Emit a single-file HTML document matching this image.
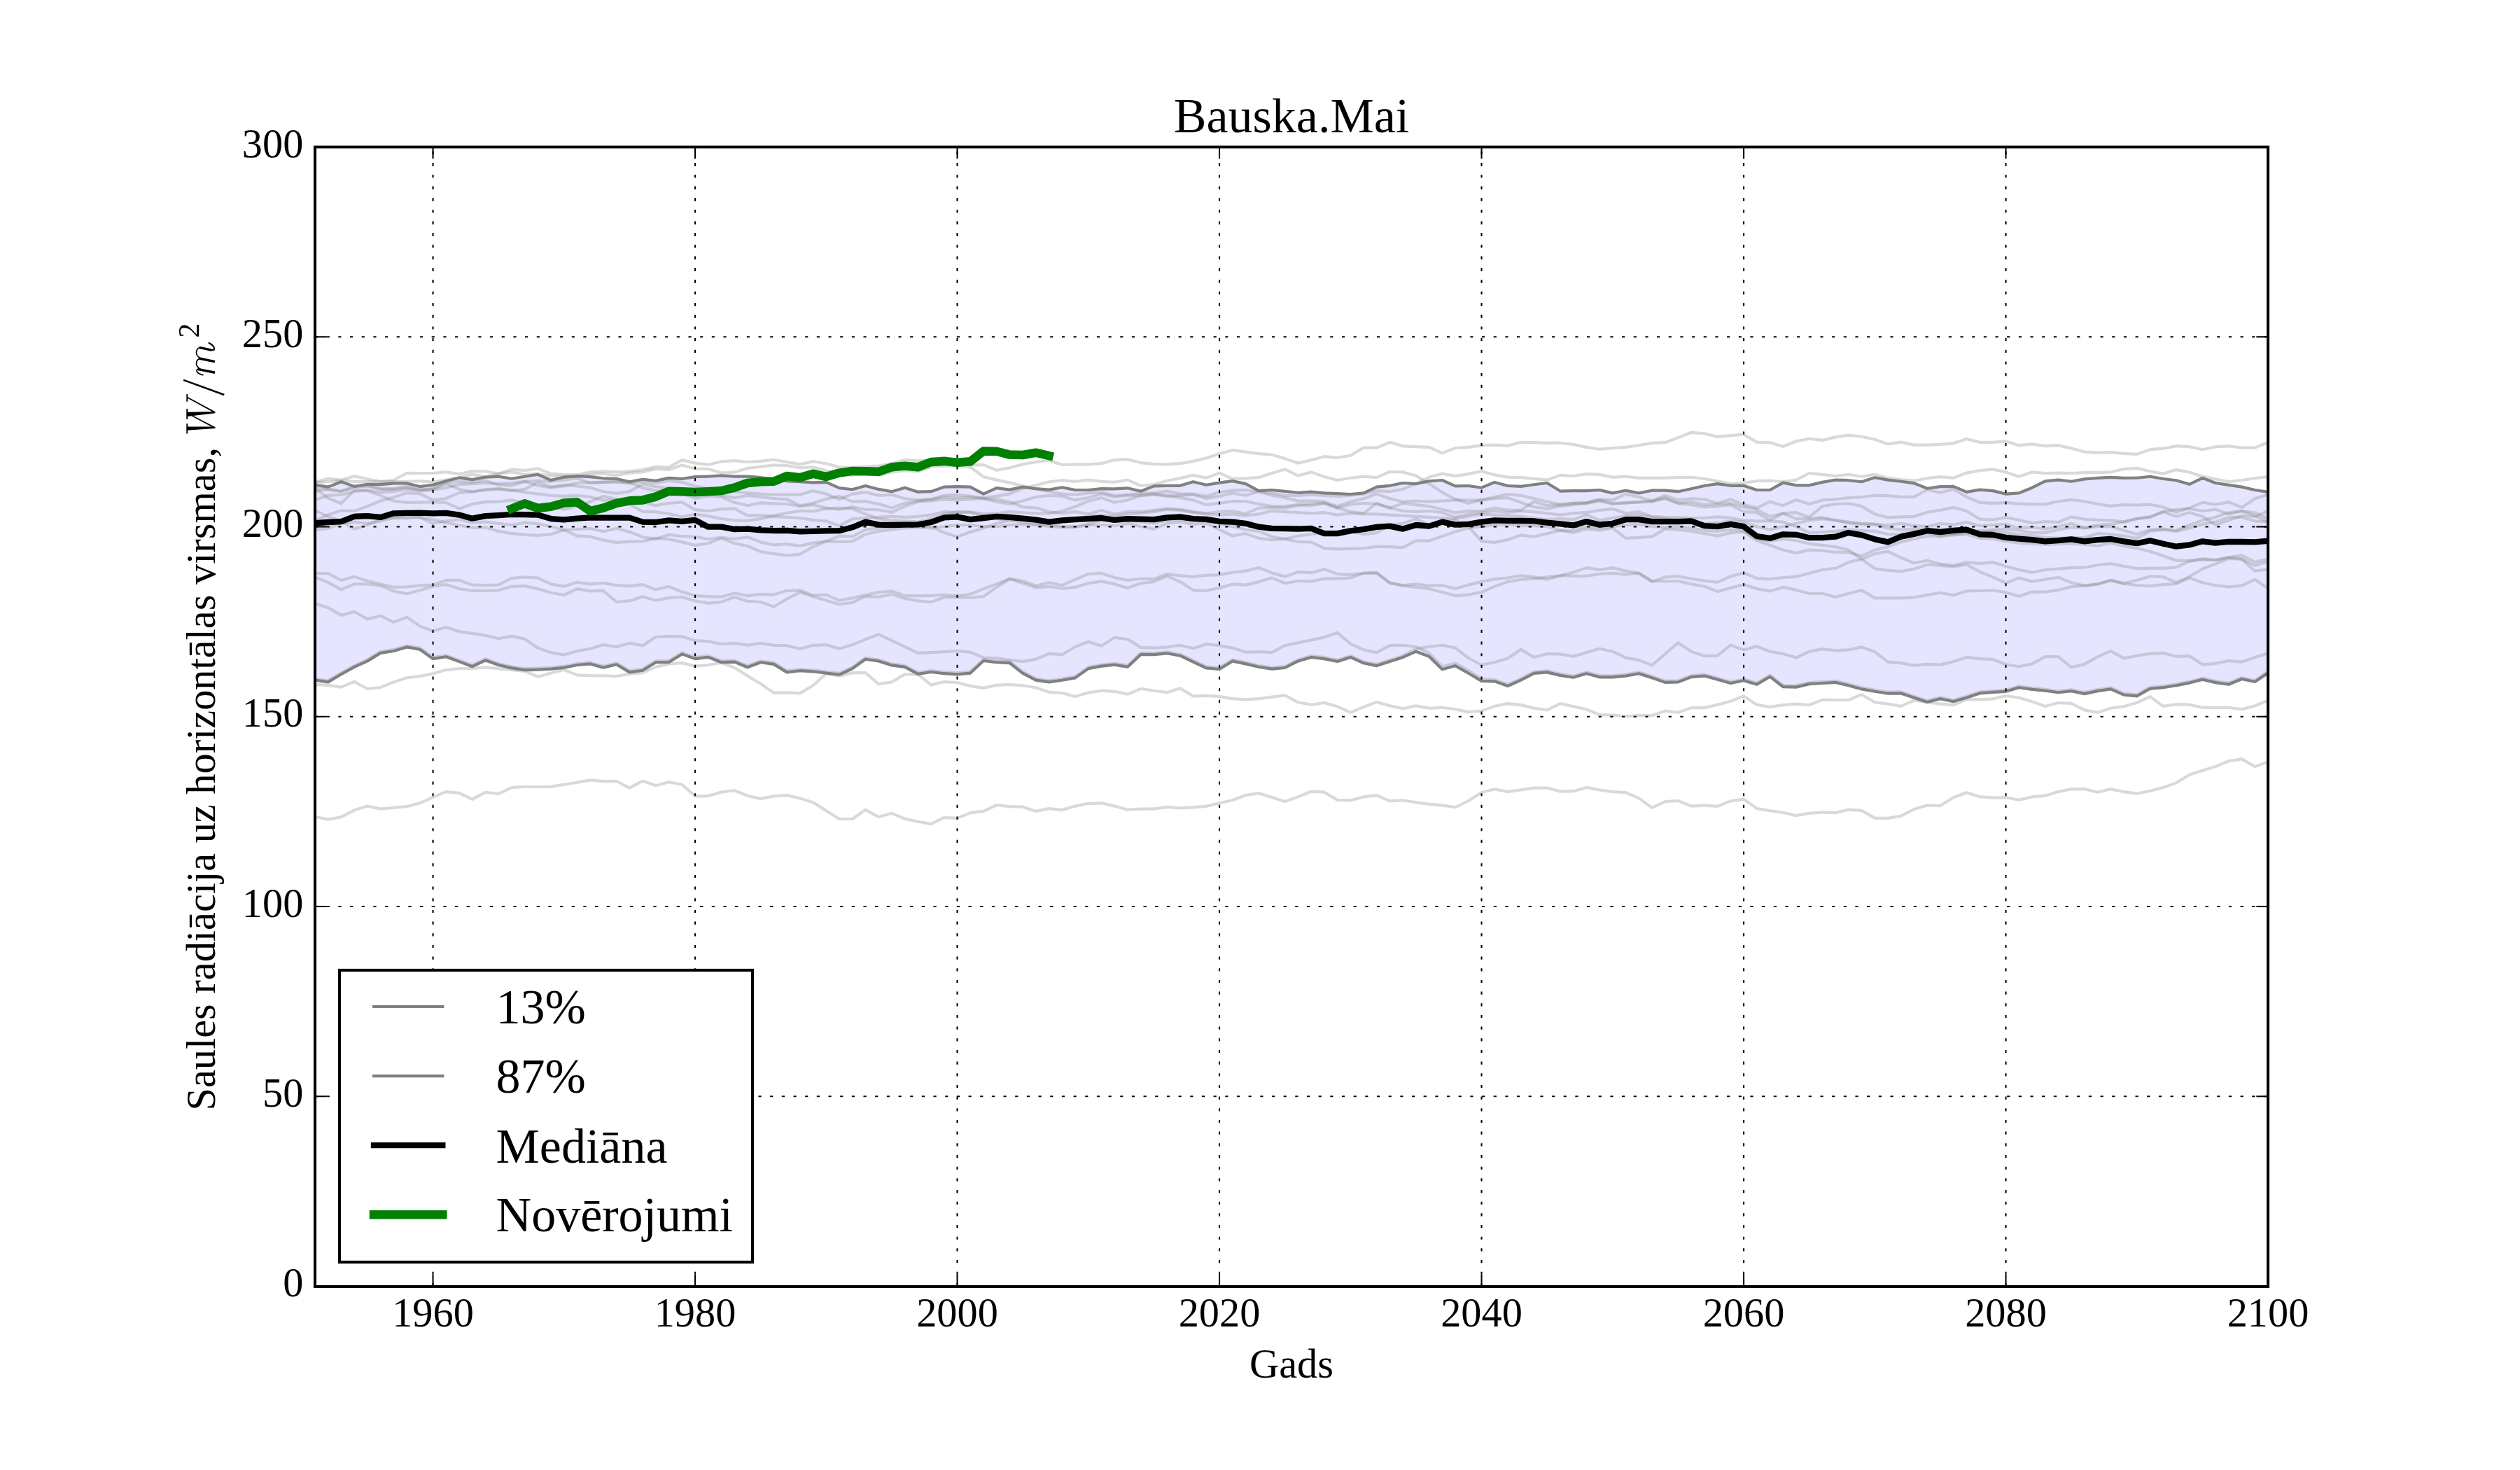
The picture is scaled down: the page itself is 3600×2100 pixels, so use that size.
<!DOCTYPE html>
<html><head><meta charset="utf-8"><title>Bauska.Mai</title>
<style>
html,body{margin:0;padding:0;background:#fff;}
body{width:3600px;height:2100px;overflow:hidden;}
svg{display:block;}
text{font-family:"Liberation Serif",serif;fill:#000;}
.t14{font-size:58.33px;}
.t17{font-size:70px;}
.it{font-style:italic;}
</style></head><body>
<svg width="3600" height="2100" viewBox="0 0 3600 2100">
<rect x="0" y="0" width="3600" height="2100" fill="#ffffff"/>
<defs><clipPath id="ax"><rect x="450" y="210" width="2790" height="1627.5"/></clipPath></defs>

<g clip-path="url(#ax)" fill="none" stroke-linejoin="round" stroke-linecap="butt">
<path d="M450.0 692.7 L468.7 695.6 L487.4 688.2 L506.2 694.9 L524.9 691.8 L543.6 692.2 L562.3 690.4 L581.1 690.4 L599.8 695.1 L618.5 692.7 L637.2 687.3 L656.0 682.4 L674.7 685.1 L693.4 681.6 L712.1 680.7 L730.9 683.8 L749.6 680.7 L768.3 677.8 L787.0 686.0 L805.8 681.6 L824.5 680.2 L843.2 681.1 L861.9 683.3 L880.7 684.0 L899.4 688.2 L918.1 684.7 L936.8 686.7 L955.6 682.9 L974.3 684.0 L993.0 681.1 L1011.7 680.7 L1030.5 679.3 L1049.2 680.7 L1067.9 680.7 L1086.6 682.2 L1105.4 684.4 L1124.1 687.3 L1142.8 688.2 L1161.5 689.3 L1180.3 688.9 L1199.0 697.1 L1217.7 699.3 L1236.4 694.0 L1255.2 698.9 L1273.9 702.2 L1292.6 696.7 L1311.3 702.7 L1330.1 702.2 L1348.8 695.6 L1367.5 695.1 L1386.2 695.6 L1405.0 705.6 L1423.7 697.1 L1442.4 699.6 L1461.1 695.6 L1479.9 698.2 L1498.6 699.6 L1517.3 696.2 L1536.0 700.0 L1554.8 700.0 L1573.5 698.2 L1592.2 698.4 L1610.9 697.3 L1629.7 701.8 L1648.4 694.4 L1667.1 693.8 L1685.8 693.8 L1704.6 688.2 L1723.3 692.7 L1742.0 689.6 L1760.7 687.1 L1779.5 691.1 L1798.2 701.1 L1816.9 700.0 L1835.6 701.8 L1854.4 703.8 L1873.1 702.7 L1891.8 704.4 L1910.5 705.1 L1929.3 706.0 L1948.0 704.4 L1966.7 695.6 L1985.4 693.8 L2004.2 690.0 L2022.9 691.1 L2041.6 687.3 L2060.3 686.0 L2079.1 694.4 L2097.8 694.0 L2116.5 696.7 L2135.2 688.9 L2154.0 694.0 L2172.7 694.9 L2191.4 692.2 L2210.1 690.0 L2228.9 701.6 L2247.6 701.1 L2266.3 701.1 L2285.0 700.0 L2303.8 704.4 L2322.5 700.7 L2341.2 704.4 L2359.9 700.7 L2378.7 700.7 L2397.4 702.2 L2416.1 698.2 L2434.8 694.0 L2453.6 691.1 L2472.3 693.8 L2491.0 693.8 L2509.7 700.0 L2528.5 700.0 L2547.2 689.6 L2565.9 693.3 L2584.6 693.3 L2603.4 688.9 L2622.1 685.6 L2640.8 686.2 L2659.5 688.2 L2678.3 682.2 L2697.0 685.6 L2715.7 687.8 L2734.4 690.4 L2753.2 697.8 L2771.9 695.1 L2790.6 694.9 L2809.3 702.9 L2828.1 699.6 L2846.8 701.1 L2865.5 705.6 L2884.2 704.4 L2903.0 696.7 L2921.7 687.3 L2940.4 685.6 L2959.1 687.8 L2977.9 684.4 L2996.6 682.9 L3015.3 681.8 L3034.0 682.9 L3052.8 682.7 L3071.5 680.7 L3090.2 684.0 L3108.9 686.2 L3127.7 691.8 L3146.4 682.9 L3165.1 690.0 L3183.8 692.9 L3202.6 695.6 L3221.3 700.0 L3240.0 702.9 L3240.0 961.6 L3221.3 974.0 L3202.6 970.0 L3183.8 977.8 L3165.1 975.1 L3146.4 970.7 L3127.7 975.6 L3108.9 979.3 L3090.2 982.2 L3071.5 983.8 L3052.8 994.4 L3034.0 992.7 L3015.3 984.4 L2996.6 987.1 L2977.9 991.1 L2959.1 987.3 L2940.4 989.3 L2921.7 986.7 L2903.0 984.9 L2884.2 982.2 L2865.5 987.8 L2846.8 988.9 L2828.1 990.4 L2809.3 996.7 L2790.6 1002.2 L2771.9 998.2 L2753.2 1002.9 L2734.4 996.7 L2715.7 990.4 L2697.0 990.7 L2678.3 987.8 L2659.5 984.4 L2640.8 979.3 L2622.1 974.9 L2603.4 976.0 L2584.6 977.1 L2565.9 981.6 L2547.2 981.1 L2528.5 966.7 L2509.7 977.8 L2491.0 972.2 L2472.3 976.0 L2453.6 970.7 L2434.8 965.6 L2416.1 967.1 L2397.4 974.4 L2378.7 974.9 L2359.9 968.2 L2341.2 962.2 L2322.5 965.6 L2303.8 967.3 L2285.0 967.3 L2266.3 962.2 L2247.6 967.8 L2228.9 964.9 L2210.1 960.4 L2191.4 961.8 L2172.7 971.6 L2154.0 980.0 L2135.2 973.3 L2116.5 972.9 L2097.8 961.8 L2079.1 951.1 L2060.3 956.2 L2041.6 937.8 L2022.9 930.7 L2004.2 938.9 L1985.4 945.1 L1966.7 951.1 L1948.0 947.3 L1929.3 938.9 L1910.5 944.9 L1891.8 941.1 L1873.1 938.9 L1854.4 944.4 L1835.6 954.0 L1816.9 955.6 L1798.2 952.7 L1779.5 948.4 L1760.7 944.4 L1742.0 956.0 L1723.3 954.4 L1704.6 945.6 L1685.8 936.7 L1667.1 933.3 L1648.4 935.1 L1629.7 934.9 L1610.9 952.7 L1592.2 949.6 L1573.5 951.6 L1554.8 955.1 L1536.0 968.4 L1517.3 971.8 L1498.6 974.4 L1479.9 971.6 L1461.1 961.8 L1442.4 947.1 L1423.7 946.2 L1405.0 944.0 L1386.2 961.6 L1367.5 963.3 L1348.8 962.2 L1330.1 960.0 L1311.3 962.9 L1292.6 952.9 L1273.9 950.4 L1255.2 944.4 L1236.4 941.8 L1217.7 955.1 L1199.0 963.8 L1180.3 961.6 L1161.5 959.3 L1142.8 958.2 L1124.1 960.4 L1105.4 948.9 L1086.6 946.2 L1067.9 953.3 L1049.2 945.6 L1030.5 946.2 L1011.7 938.9 L993.0 941.1 L974.3 934.4 L955.6 946.0 L936.8 946.2 L918.1 957.8 L899.4 960.4 L880.7 949.3 L861.9 953.8 L843.2 948.4 L824.5 950.0 L805.8 953.8 L787.0 955.6 L768.3 956.7 L749.6 957.1 L730.9 954.4 L712.1 950.0 L693.4 943.3 L674.7 952.2 L656.0 945.1 L637.2 938.2 L618.5 941.1 L599.8 927.8 L581.1 924.4 L562.3 930.0 L543.6 932.9 L524.9 944.4 L506.2 952.9 L487.4 963.3 L468.7 974.4 L450.0 971.6 Z" fill="#0000ff" fill-opacity="0.1" stroke="none"/>
<path d="M450.0 1166.7 L468.7 1170.7 L487.4 1167.1 L506.2 1157.3 L524.9 1151.6 L543.6 1155.6 L562.3 1153.8 L581.1 1152.2 L599.8 1147.3 L618.5 1138.9 L637.2 1131.1 L656.0 1132.9 L674.7 1141.8 L693.4 1131.8 L712.1 1134.0 L730.9 1125.1 L749.6 1124.0 L768.3 1124.0 L787.0 1123.8 L805.8 1120.7 L824.5 1117.8 L843.2 1114.4 L861.9 1116.2 L880.7 1116.0 L899.4 1125.6 L918.1 1115.6 L936.8 1122.2 L955.6 1117.3 L974.3 1120.7 L993.0 1137.3 L1011.7 1137.1 L1030.5 1131.6 L1049.2 1129.3 L1067.9 1136.7 L1086.6 1141.1 L1105.4 1137.3 L1124.1 1136.0 L1142.8 1140.4 L1161.5 1146.2 L1180.3 1158.2 L1199.0 1170.0 L1217.7 1170.0 L1236.4 1156.7 L1255.2 1167.1 L1273.9 1161.8 L1292.6 1169.6 L1311.3 1173.8 L1330.1 1177.1 L1348.8 1167.8 L1367.5 1168.9 L1386.2 1161.1 L1405.0 1158.9 L1423.7 1150.0 L1442.4 1152.2 L1461.1 1152.7 L1479.9 1158.9 L1498.6 1155.1 L1517.3 1157.1 L1536.0 1151.6 L1554.8 1147.8 L1573.5 1147.3 L1592.2 1151.6 L1610.9 1156.7 L1629.7 1155.6 L1648.4 1155.6 L1667.1 1152.9 L1685.8 1154.4 L1704.6 1153.3 L1723.3 1151.8 L1742.0 1147.3 L1760.7 1143.3 L1779.5 1136.0 L1798.2 1133.3 L1816.9 1138.9 L1835.6 1145.1 L1854.4 1138.4 L1873.1 1130.7 L1891.8 1131.6 L1910.5 1142.9 L1929.3 1143.3 L1948.0 1138.4 L1966.7 1136.2 L1985.4 1144.4 L2004.2 1143.3 L2022.9 1146.2 L2041.6 1148.9 L2060.3 1150.4 L2079.1 1153.3 L2097.8 1144.0 L2116.5 1132.2 L2135.2 1127.3 L2154.0 1131.1 L2172.7 1128.4 L2191.4 1125.6 L2210.1 1125.6 L2228.9 1130.7 L2247.6 1130.4 L2266.3 1124.9 L2285.0 1128.4 L2303.8 1131.1 L2322.5 1132.2 L2341.2 1140.4 L2359.9 1153.8 L2378.7 1145.1 L2397.4 1144.0 L2416.1 1151.6 L2434.8 1150.7 L2453.6 1151.8 L2472.3 1144.4 L2491.0 1141.8 L2509.7 1154.9 L2528.5 1158.2 L2547.2 1160.7 L2565.9 1165.1 L2584.6 1161.8 L2603.4 1160.4 L2622.1 1161.1 L2640.8 1156.7 L2659.5 1157.8 L2678.3 1168.9 L2697.0 1168.9 L2715.7 1165.6 L2734.4 1156.0 L2753.2 1150.4 L2771.9 1151.1 L2790.6 1139.3 L2809.3 1132.2 L2828.1 1138.2 L2846.8 1139.6 L2865.5 1139.3 L2884.2 1142.7 L2903.0 1138.4 L2921.7 1136.7 L2940.4 1131.1 L2959.1 1127.3 L2977.9 1127.1 L2996.6 1131.8 L3015.3 1127.3 L3034.0 1131.1 L3052.8 1133.8 L3071.5 1130.0 L3090.2 1125.1 L3108.9 1118.4 L3127.7 1106.7 L3146.4 1100.7 L3165.1 1095.1 L3183.8 1087.1 L3202.6 1084.4 L3221.3 1095.1 L3240.0 1088.4" stroke="#808080" stroke-opacity="0.3" stroke-width="4.17"/>
<path d="M450.0 977.8 L468.7 978.9 L487.4 981.6 L506.2 973.8 L524.9 984.0 L543.6 982.2 L562.3 974.4 L581.1 968.2 L599.8 966.0 L618.5 962.2 L637.2 957.1 L656.0 955.1 L674.7 954.9 L693.4 953.3 L712.1 955.1 L730.9 957.3 L749.6 958.9 L768.3 966.7 L787.0 961.6 L805.8 956.7 L824.5 964.4 L843.2 965.1 L861.9 965.3 L880.7 966.0 L899.4 962.7 L918.1 961.1 L936.8 952.9 L955.6 948.4 L974.3 947.1 L993.0 951.6 L1011.7 950.0 L1030.5 946.7 L1049.2 953.8 L1067.9 965.6 L1086.6 976.7 L1105.4 989.6 L1124.1 989.3 L1142.8 990.4 L1161.5 979.3 L1180.3 962.2 L1199.0 965.6 L1217.7 961.1 L1236.4 961.1 L1255.2 977.3 L1273.9 974.4 L1292.6 963.3 L1311.3 963.3 L1330.1 978.4 L1348.8 974.0 L1367.5 975.1 L1386.2 980.0 L1405.0 982.9 L1423.7 978.9 L1442.4 977.8 L1461.1 979.3 L1479.9 982.2 L1498.6 988.9 L1517.3 990.0 L1536.0 994.9 L1554.8 989.6 L1573.5 986.7 L1592.2 987.8 L1610.9 991.8 L1629.7 983.8 L1648.4 986.7 L1667.1 989.3 L1685.8 983.3 L1704.6 994.4 L1723.3 993.8 L1742.0 994.9 L1760.7 998.2 L1779.5 999.3 L1798.2 998.2 L1816.9 995.6 L1835.6 993.3 L1854.4 1003.3 L1873.1 1006.7 L1891.8 1004.0 L1910.5 1009.3 L1929.3 1017.8 L1948.0 1010.0 L1966.7 1002.9 L1985.4 1008.2 L2004.2 1012.2 L2022.9 1008.2 L2041.6 1011.8 L2060.3 1010.7 L2079.1 1013.3 L2097.8 1017.1 L2116.5 1015.6 L2135.2 1008.9 L2154.0 1005.1 L2172.7 1007.1 L2191.4 1011.6 L2210.1 1014.4 L2228.9 1005.1 L2247.6 1009.3 L2266.3 1013.3 L2285.0 1021.1 L2303.8 1021.6 L2322.5 1023.3 L2341.2 1022.2 L2359.9 1022.2 L2378.7 1015.6 L2397.4 1017.8 L2416.1 1011.1 L2434.8 1011.1 L2453.6 1006.7 L2472.3 1001.8 L2491.0 994.4 L2509.7 1006.7 L2528.5 1010.0 L2547.2 1007.1 L2565.9 1005.6 L2584.6 1007.1 L2603.4 999.6 L2622.1 1000.0 L2640.8 1000.0 L2659.5 992.2 L2678.3 1003.3 L2697.0 1005.6 L2715.7 1008.9 L2734.4 1000.4 L2753.2 1003.3 L2771.9 1005.6 L2790.6 1007.1 L2809.3 999.3 L2828.1 999.3 L2846.8 998.4 L2865.5 994.0 L2884.2 996.7 L2903.0 1002.2 L2921.7 1008.9 L2940.4 1004.0 L2959.1 1004.9 L2977.9 1014.4 L2996.6 1017.8 L3015.3 1011.8 L3034.0 1009.3 L3052.8 1003.8 L3071.5 995.1 L3090.2 1008.9 L3108.9 1006.2 L3127.7 1006.7 L3146.4 1010.7 L3165.1 1011.1 L3183.8 1010.7 L3202.6 1013.3 L3221.3 1008.2 L3240.0 1000.7" stroke="#808080" stroke-opacity="0.3" stroke-width="4.17"/>
<path d="M450.0 862.2 L468.7 868.2 L487.4 878.9 L506.2 873.8 L524.9 884.4 L543.6 879.6 L562.3 888.9 L581.1 881.6 L599.8 894.4 L618.5 901.6 L637.2 896.0 L656.0 902.2 L674.7 904.9 L693.4 907.8 L712.1 912.2 L730.9 908.9 L749.6 912.9 L768.3 925.6 L787.0 932.2 L805.8 935.6 L824.5 930.0 L843.2 926.7 L861.9 921.1 L880.7 924.0 L899.4 918.9 L918.1 922.2 L936.8 910.0 L955.6 908.9 L974.3 909.6 L993.0 915.1 L1011.7 916.2 L1030.5 920.0 L1049.2 918.9 L1067.9 921.6 L1086.6 918.9 L1105.4 921.8 L1124.1 922.2 L1142.8 927.1 L1161.5 921.8 L1180.3 921.1 L1199.0 926.7 L1217.7 921.1 L1236.4 913.3 L1255.2 906.2 L1273.9 915.1 L1292.6 924.0 L1311.3 932.9 L1330.1 932.2 L1348.8 931.1 L1367.5 930.0 L1386.2 931.6 L1405.0 939.6 L1423.7 940.0 L1442.4 942.7 L1461.1 945.1 L1479.9 941.6 L1498.6 933.8 L1517.3 935.1 L1536.0 924.0 L1554.8 916.7 L1573.5 922.7 L1592.2 910.7 L1610.9 913.3 L1629.7 924.9 L1648.4 925.6 L1667.1 924.4 L1685.8 921.8 L1704.6 926.2 L1723.3 920.0 L1742.0 922.2 L1760.7 925.6 L1779.5 931.6 L1798.2 931.1 L1816.9 932.2 L1835.6 922.2 L1854.4 918.2 L1873.1 914.4 L1891.8 910.4 L1910.5 903.8 L1929.3 919.6 L1948.0 928.2 L1966.7 932.2 L1985.4 922.2 L2004.2 921.8 L2022.9 923.8 L2041.6 932.9 L2060.3 952.2 L2079.1 947.3 L2097.8 957.8 L2116.5 970.0 L2135.2 971.3 L2154.0 978.0 L2172.7 969.6 L2191.4 959.8 L2210.1 958.4 L2228.9 962.9 L2247.6 965.8 L2266.3 960.2 L2285.0 965.3 L2303.8 965.3 L2322.5 963.6 L2341.2 960.2 L2359.9 966.2 L2378.7 972.9 L2397.4 972.4 L2416.1 965.1 L2434.8 963.6 L2453.6 968.7 L2472.3 974.0 L2491.0 970.2 L2509.7 975.8 L2528.5 964.7 L2547.2 979.1 L2565.9 979.6 L2584.6 975.1 L2603.4 974.0 L2622.1 972.9 L2640.8 977.3 L2659.5 982.4 L2678.3 985.8 L2697.0 988.7 L2715.7 988.4 L2734.4 994.7 L2753.2 1000.9 L2771.9 996.2 L2790.6 1000.2 L2809.3 994.7 L2828.1 988.4 L2846.8 986.9 L2865.5 985.8 L2884.2 980.2 L2903.0 982.9 L2921.7 984.7 L2940.4 987.3 L2959.1 985.3 L2977.9 989.1 L2996.6 985.1 L3015.3 982.4 L3034.0 990.7 L3052.8 992.4 L3071.5 981.8 L3090.2 980.2 L3108.9 977.3 L3127.7 973.6 L3146.4 968.7 L3165.1 973.1 L3183.8 975.8 L3202.6 968.0 L3221.3 972.0 L3240.0 959.6" stroke="#808080" stroke-opacity="0.3" stroke-width="4.17"/>
<path d="M450.0 969.6 L468.7 972.4 L487.4 961.3 L506.2 950.9 L524.9 942.4 L543.6 930.9 L562.3 928.0 L581.1 922.4 L599.8 925.8 L618.5 939.1 L637.2 936.2 L656.0 943.1 L674.7 950.2 L693.4 941.3 L712.1 948.0 L730.9 952.4 L749.6 955.1 L768.3 954.7 L787.0 953.6 L805.8 951.8 L824.5 948.0 L843.2 946.4 L861.9 951.8 L880.7 947.3 L899.4 958.4 L918.1 955.8 L936.8 944.2 L955.6 944.0 L974.3 932.4 L993.0 939.1 L1011.7 936.9 L1030.5 944.2 L1049.2 943.6 L1067.9 951.3 L1086.6 944.2 L1105.4 946.9 L1124.1 958.4 L1142.8 956.2 L1161.5 957.3 L1180.3 959.6 L1199.0 961.8 L1217.7 953.1 L1236.4 939.8 L1255.2 942.4 L1273.9 948.4 L1292.6 950.9 L1311.3 960.9 L1330.1 958.0 L1348.8 960.2 L1367.5 961.3 L1386.2 959.6 L1405.0 942.0 L1423.7 944.2 L1442.4 945.1 L1461.1 959.8 L1479.9 969.6 L1498.6 972.4 L1517.3 969.8 L1536.0 966.4 L1554.8 953.1 L1573.5 949.6 L1592.2 947.6 L1610.9 950.7 L1629.7 932.9 L1648.4 933.1 L1667.1 931.3 L1685.8 934.7 L1704.6 943.6 L1723.3 952.4 L1742.0 954.0 L1760.7 942.4 L1779.5 946.4 L1798.2 950.7 L1816.9 953.6 L1835.6 952.0 L1854.4 942.4 L1873.1 936.9 L1891.8 939.1 L1910.5 942.9 L1929.3 936.9 L1948.0 945.3 L1966.7 949.1 L1985.4 943.1 L2004.2 936.9 L2022.9 926.7 L2041.6 923.8 L2060.3 921.8 L2079.1 925.6 L2097.8 940.0 L2116.5 950.0 L2135.2 946.0 L2154.0 940.4 L2172.7 927.8 L2191.4 938.9 L2210.1 934.0 L2228.9 934.4 L2247.6 937.8 L2266.3 932.2 L2285.0 926.7 L2303.8 930.7 L2322.5 939.6 L2341.2 942.9 L2359.9 950.4 L2378.7 934.4 L2397.4 918.2 L2416.1 930.7 L2434.8 937.1 L2453.6 936.7 L2472.3 921.6 L2491.0 928.4 L2509.7 923.3 L2528.5 930.7 L2547.2 934.0 L2565.9 939.6 L2584.6 930.7 L2603.4 927.1 L2622.1 929.3 L2640.8 928.4 L2659.5 924.4 L2678.3 931.1 L2697.0 945.6 L2715.7 947.1 L2734.4 950.7 L2753.2 948.9 L2771.9 949.6 L2790.6 945.1 L2809.3 938.9 L2828.1 941.1 L2846.8 941.8 L2865.5 949.3 L2884.2 952.2 L2903.0 948.4 L2921.7 938.2 L2940.4 938.2 L2959.1 953.3 L2977.9 948.9 L2996.6 938.2 L3015.3 930.0 L3034.0 940.4 L3052.8 936.7 L3071.5 933.8 L3090.2 932.9 L3108.9 937.8 L3127.7 937.1 L3146.4 949.3 L3165.1 947.8 L3183.8 944.0 L3202.6 945.6 L3221.3 939.3 L3240.0 933.3" stroke="#808080" stroke-opacity="0.3" stroke-width="4.17"/>
<path d="M450.0 818.9 L468.7 819.3 L487.4 828.9 L506.2 823.8 L524.9 830.0 L543.6 834.4 L562.3 838.9 L581.1 838.4 L599.8 836.7 L618.5 835.6 L637.2 828.9 L656.0 828.9 L674.7 835.6 L693.4 836.2 L712.1 835.6 L730.9 826.0 L749.6 824.4 L768.3 825.6 L787.0 834.4 L805.8 837.8 L824.5 831.8 L843.2 834.4 L861.9 832.9 L880.7 836.2 L899.4 837.1 L918.1 835.1 L936.8 842.2 L955.6 837.8 L974.3 845.6 L993.0 851.1 L1011.7 852.2 L1030.5 852.7 L1049.2 847.3 L1067.9 851.1 L1086.6 848.9 L1105.4 849.6 L1124.1 843.8 L1142.8 843.3 L1161.5 850.4 L1180.3 849.6 L1199.0 857.8 L1217.7 854.4 L1236.4 850.0 L1255.2 846.0 L1273.9 844.4 L1292.6 851.1 L1311.3 851.1 L1330.1 851.1 L1348.8 849.6 L1367.5 851.1 L1386.2 848.9 L1405.0 841.1 L1423.7 834.4 L1442.4 826.7 L1461.1 830.0 L1479.9 836.7 L1498.6 832.2 L1517.3 836.2 L1536.0 827.8 L1554.8 820.0 L1573.5 818.9 L1592.2 825.1 L1610.9 828.9 L1629.7 826.7 L1648.4 827.3 L1667.1 820.0 L1685.8 822.2 L1704.6 824.0 L1723.3 821.8 L1742.0 821.1 L1760.7 817.8 L1779.5 815.6 L1798.2 811.1 L1816.9 818.4 L1835.6 823.8 L1854.4 817.1 L1873.1 818.2 L1891.8 813.3 L1910.5 820.0 L1929.3 821.1 L1948.0 818.9 L1966.7 817.8 L1985.4 832.2 L2004.2 836.2 L2022.9 834.4 L2041.6 836.7 L2060.3 836.2 L2079.1 841.1 L2097.8 835.6 L2116.5 831.1 L2135.2 827.3 L2154.0 825.6 L2172.7 822.2 L2191.4 824.4 L2210.1 827.8 L2228.9 822.2 L2247.6 817.8 L2266.3 811.1 L2285.0 814.0 L2303.8 811.1 L2322.5 815.6 L2341.2 818.9 L2359.9 831.1 L2378.7 824.4 L2397.4 823.3 L2416.1 826.7 L2434.8 829.6 L2453.6 831.8 L2472.3 823.3 L2491.0 818.4 L2509.7 826.2 L2528.5 827.3 L2547.2 825.1 L2565.9 823.8 L2584.6 818.9 L2603.4 814.0 L2622.1 811.8 L2640.8 803.3 L2659.5 798.9 L2678.3 791.1 L2697.0 787.8 L2715.7 796.7 L2734.4 804.4 L2753.2 800.7 L2771.9 805.6 L2790.6 807.8 L2809.3 803.3 L2828.1 804.9 L2846.8 803.3 L2865.5 808.9 L2884.2 814.0 L2903.0 817.8 L2921.7 814.0 L2940.4 812.7 L2959.1 811.1 L2977.9 810.7 L2996.6 807.3 L3015.3 805.1 L3034.0 808.9 L3052.8 812.2 L3071.5 811.6 L3090.2 811.8 L3108.9 810.4 L3127.7 801.6 L3146.4 798.4 L3165.1 800.0 L3183.8 796.2 L3202.6 793.3 L3221.3 802.9 L3240.0 798.9" stroke="#808080" stroke-opacity="0.3" stroke-width="4.17"/>
<path d="M450.0 824.4 L468.7 832.2 L487.4 842.2 L506.2 834.4 L524.9 834.4 L543.6 836.7 L562.3 844.4 L581.1 848.2 L599.8 843.3 L618.5 837.8 L637.2 834.9 L656.0 841.1 L674.7 843.8 L693.4 843.8 L712.1 843.3 L730.9 837.8 L749.6 837.1 L768.3 841.1 L787.0 846.7 L805.8 850.0 L824.5 841.1 L843.2 844.4 L861.9 843.8 L880.7 860.0 L899.4 858.4 L918.1 852.2 L936.8 857.8 L955.6 854.0 L974.3 852.9 L993.0 858.4 L1011.7 861.8 L1030.5 860.0 L1049.2 852.7 L1067.9 858.9 L1086.6 860.0 L1105.4 866.7 L1124.1 855.6 L1142.8 846.0 L1161.5 852.2 L1180.3 857.8 L1199.0 863.3 L1217.7 860.7 L1236.4 852.2 L1255.2 852.7 L1273.9 848.9 L1292.6 854.9 L1311.3 858.4 L1330.1 860.0 L1348.8 853.3 L1367.5 853.3 L1386.2 854.0 L1405.0 852.2 L1423.7 838.9 L1442.4 826.7 L1461.1 833.3 L1479.9 839.3 L1498.6 837.8 L1517.3 840.7 L1536.0 838.9 L1554.8 833.3 L1573.5 830.4 L1592.2 834.4 L1610.9 840.0 L1629.7 833.3 L1648.4 831.1 L1667.1 822.9 L1685.8 831.1 L1704.6 843.3 L1723.3 843.8 L1742.0 840.0 L1760.7 834.4 L1779.5 835.6 L1798.2 831.1 L1816.9 825.6 L1835.6 833.3 L1854.4 830.0 L1873.1 830.7 L1891.8 826.7 L1910.5 826.7 L1929.3 825.6 L1948.0 818.9 L1966.7 818.9 L1985.4 833.3 L2004.2 836.7 L2022.9 838.9 L2041.6 841.1 L2060.3 846.0 L2079.1 851.1 L2097.8 849.6 L2116.5 846.0 L2135.2 837.8 L2154.0 831.1 L2172.7 827.8 L2191.4 826.7 L2210.1 824.4 L2228.9 822.2 L2247.6 822.9 L2266.3 822.9 L2285.0 820.0 L2303.8 818.9 L2322.5 820.7 L2341.2 818.9 L2359.9 830.0 L2378.7 830.4 L2397.4 830.0 L2416.1 834.4 L2434.8 837.8 L2453.6 845.1 L2472.3 840.0 L2491.0 834.9 L2509.7 841.1 L2528.5 844.4 L2547.2 838.9 L2565.9 842.9 L2584.6 847.8 L2603.4 847.8 L2622.1 852.9 L2640.8 847.8 L2659.5 843.3 L2678.3 854.4 L2697.0 854.4 L2715.7 854.4 L2734.4 853.3 L2753.2 850.0 L2771.9 846.7 L2790.6 850.4 L2809.3 844.4 L2828.1 844.0 L2846.8 843.3 L2865.5 846.2 L2884.2 851.8 L2903.0 845.6 L2921.7 845.6 L2940.4 842.9 L2959.1 838.2 L2977.9 836.7 L2996.6 834.4 L3015.3 828.9 L3034.0 834.0 L3052.8 836.0 L3071.5 837.1 L3090.2 835.1 L3108.9 834.0 L3127.7 825.6 L3146.4 832.2 L3165.1 836.2 L3183.8 838.4 L3202.6 836.7 L3221.3 827.8 L3240.0 840.7" stroke="#808080" stroke-opacity="0.3" stroke-width="4.17"/>
<path d="M450.0 688.9 L468.7 683.8 L487.4 685.8 L506.2 680.2 L524.9 684.2 L543.6 687.8 L562.3 686.0 L581.1 675.8 L599.8 676.0 L618.5 676.0 L637.2 674.2 L656.0 677.1 L674.7 673.1 L693.4 673.3 L712.1 676.7 L730.9 670.4 L749.6 672.2 L768.3 669.3 L787.0 676.7 L805.8 677.8 L824.5 678.4 L843.2 674.4 L861.9 673.3 L880.7 674.4 L899.4 673.3 L918.1 671.1 L936.8 666.7 L955.6 667.3 L974.3 657.1 L993.0 661.6 L1011.7 663.8 L1030.5 659.3 L1049.2 658.2 L1067.9 660.0 L1086.6 658.9 L1105.4 656.7 L1124.1 660.0 L1142.8 663.3 L1161.5 659.3 L1180.3 662.2 L1199.0 667.3 L1217.7 668.2 L1236.4 666.7 L1255.2 665.6 L1273.9 662.2 L1292.6 657.1 L1311.3 658.4 L1330.1 657.8 L1348.8 653.3 L1367.5 660.0 L1386.2 664.4 L1405.0 663.8 L1423.7 671.8 L1442.4 668.2 L1461.1 663.3 L1479.9 660.0 L1498.6 657.8 L1517.3 664.0 L1536.0 663.3 L1554.8 663.3 L1573.5 662.2 L1592.2 657.1 L1610.9 656.2 L1629.7 661.1 L1648.4 662.9 L1667.1 663.3 L1685.8 662.2 L1704.6 658.9 L1723.3 654.4 L1742.0 648.2 L1760.7 642.9 L1779.5 645.6 L1798.2 648.2 L1816.9 649.6 L1835.6 655.1 L1854.4 661.6 L1873.1 657.3 L1891.8 652.2 L1910.5 653.8 L1929.3 650.7 L1948.0 639.6 L1966.7 639.6 L1985.4 631.8 L2004.2 637.3 L2022.9 638.2 L2041.6 638.9 L2060.3 647.3 L2079.1 640.0 L2097.8 638.9 L2116.5 636.2 L2135.2 635.6 L2154.0 636.7 L2172.7 631.8 L2191.4 632.2 L2210.1 632.9 L2228.9 632.7 L2247.6 634.9 L2266.3 638.9 L2285.0 641.8 L2303.8 640.0 L2322.5 638.9 L2341.2 636.2 L2359.9 632.9 L2378.7 632.2 L2397.4 625.1 L2416.1 617.8 L2434.8 619.3 L2453.6 624.0 L2472.3 622.2 L2491.0 620.7 L2509.7 631.6 L2528.5 632.2 L2547.2 637.8 L2565.9 630.4 L2584.6 626.7 L2603.4 628.9 L2622.1 624.4 L2640.8 621.6 L2659.5 623.8 L2678.3 627.8 L2697.0 634.4 L2715.7 631.6 L2734.4 635.6 L2753.2 635.6 L2771.9 634.9 L2790.6 633.3 L2809.3 627.1 L2828.1 631.8 L2846.8 631.8 L2865.5 630.4 L2884.2 636.2 L2903.0 634.4 L2921.7 637.1 L2940.4 636.2 L2959.1 640.4 L2977.9 645.6 L2996.6 646.7 L3015.3 646.2 L3034.0 647.8 L3052.8 648.9 L3071.5 642.2 L3090.2 640.7 L3108.9 637.1 L3127.7 638.2 L3146.4 642.2 L3165.1 638.2 L3183.8 637.3 L3202.6 639.6 L3221.3 639.6 L3240.0 631.8" stroke="#808080" stroke-opacity="0.3" stroke-width="4.17"/>
<path d="M450.0 689.6 L468.7 688.2 L487.4 686.7 L506.2 687.8 L524.9 688.2 L543.6 688.2 L562.3 688.2 L581.1 688.2 L599.8 687.1 L618.5 688.9 L637.2 685.6 L656.0 682.2 L674.7 677.8 L693.4 680.7 L712.1 676.7 L730.9 674.4 L749.6 677.8 L768.3 676.7 L787.0 680.0 L805.8 680.7 L824.5 680.7 L843.2 677.8 L861.9 676.7 L880.7 679.3 L899.4 675.6 L918.1 674.4 L936.8 670.0 L955.6 671.1 L974.3 664.4 L993.0 669.6 L1011.7 670.0 L1030.5 675.6 L1049.2 674.4 L1067.9 668.9 L1086.6 666.7 L1105.4 664.4 L1124.1 665.1 L1142.8 668.2 L1161.5 667.3 L1180.3 672.2 L1199.0 677.8 L1217.7 678.9 L1236.4 676.7 L1255.2 678.9 L1273.9 674.4 L1292.6 672.2 L1311.3 673.3 L1330.1 666.7 L1348.8 665.6 L1367.5 665.6 L1386.2 667.3 L1405.0 681.1 L1423.7 685.6 L1442.4 689.6 L1461.1 694.0 L1479.9 698.4 L1498.6 702.2 L1517.3 705.6 L1536.0 706.7 L1554.8 704.4 L1573.5 703.3 L1592.2 707.8 L1610.9 706.7 L1629.7 704.4 L1648.4 704.4 L1667.1 701.6 L1685.8 705.6 L1704.6 705.6 L1723.3 708.9 L1742.0 703.3 L1760.7 700.7 L1779.5 700.0 L1798.2 702.2 L1816.9 704.4 L1835.6 707.8 L1854.4 707.8 L1873.1 706.7 L1891.8 707.8 L1910.5 708.9 L1929.3 707.8 L1948.0 705.6 L1966.7 701.1 L1985.4 702.2 L2004.2 698.9 L2022.9 691.1 L2041.6 681.6 L2060.3 676.7 L2079.1 680.0 L2097.8 677.1 L2116.5 673.3 L2135.2 678.4 L2154.0 681.6 L2172.7 682.2 L2191.4 683.8 L2210.1 685.6 L2228.9 678.9 L2247.6 680.0 L2266.3 677.1 L2285.0 677.8 L2303.8 681.8 L2322.5 680.7 L2341.2 682.9 L2359.9 682.9 L2378.7 682.9 L2397.4 682.2 L2416.1 681.8 L2434.8 684.0 L2453.6 687.3 L2472.3 691.1 L2491.0 690.0 L2509.7 687.1 L2528.5 686.7 L2547.2 688.2 L2565.9 685.6 L2584.6 676.0 L2603.4 677.8 L2622.1 680.0 L2640.8 677.8 L2659.5 680.7 L2678.3 677.8 L2697.0 682.9 L2715.7 685.1 L2734.4 686.7 L2753.2 683.3 L2771.9 681.1 L2790.6 682.9 L2809.3 675.6 L2828.1 672.2 L2846.8 670.4 L2865.5 674.4 L2884.2 680.7 L2903.0 674.4 L2921.7 676.0 L2940.4 675.6 L2959.1 676.0 L2977.9 675.1 L2996.6 675.1 L3015.3 674.4 L3034.0 670.0 L3052.8 668.9 L3071.5 673.3 L3090.2 676.7 L3108.9 671.1 L3127.7 674.4 L3146.4 680.7 L3165.1 684.4 L3183.8 688.2 L3202.6 686.0 L3221.3 683.3 L3240.0 681.1" stroke="#808080" stroke-opacity="0.3" stroke-width="4.17"/>
<path d="M450.0 696.0 L468.7 698.9 L487.4 701.6 L506.2 696.7 L524.9 694.4 L543.6 699.3 L562.3 698.2 L581.1 694.9 L599.8 699.3 L618.5 698.9 L637.2 689.3 L656.0 688.2 L674.7 688.9 L693.4 686.7 L712.1 692.7 L730.9 693.8 L749.6 687.8 L768.3 693.8 L787.0 696.7 L805.8 694.4 L824.5 690.0 L843.2 689.3 L861.9 688.9 L880.7 688.2 L899.4 690.4 L918.1 687.8 L936.8 690.0 L955.6 686.7 L974.3 688.9 L993.0 694.4 L1011.7 698.4 L1030.5 700.0 L1049.2 702.2 L1067.9 704.4 L1086.6 705.6 L1105.4 706.7 L1124.1 706.7 L1142.8 706.7 L1161.5 701.1 L1180.3 705.6 L1199.0 713.3 L1217.7 705.6 L1236.4 703.3 L1255.2 707.8 L1273.9 706.7 L1292.6 712.2 L1311.3 714.4 L1330.1 713.3 L1348.8 710.0 L1367.5 711.1 L1386.2 710.0 L1405.0 711.1 L1423.7 708.9 L1442.4 705.6 L1461.1 697.8 L1479.9 693.3 L1498.6 688.2 L1517.3 686.2 L1536.0 687.8 L1554.8 685.6 L1573.5 687.8 L1592.2 688.9 L1610.9 685.6 L1629.7 694.0 L1648.4 692.2 L1667.1 686.7 L1685.8 683.3 L1704.6 678.9 L1723.3 682.7 L1742.0 675.6 L1760.7 683.8 L1779.5 683.3 L1798.2 682.2 L1816.9 676.0 L1835.6 670.4 L1854.4 679.6 L1873.1 674.4 L1891.8 681.1 L1910.5 686.0 L1929.3 682.7 L1948.0 680.7 L1966.7 682.2 L1985.4 674.0 L2004.2 674.4 L2022.9 679.6 L2041.6 691.1 L2060.3 703.3 L2079.1 713.3 L2097.8 718.9 L2116.5 714.4 L2135.2 710.0 L2154.0 706.0 L2172.7 707.8 L2191.4 712.2 L2210.1 716.7 L2228.9 720.7 L2247.6 718.9 L2266.3 717.8 L2285.0 713.3 L2303.8 714.4 L2322.5 705.6 L2341.2 710.0 L2359.9 715.6 L2378.7 707.8 L2397.4 714.4 L2416.1 712.2 L2434.8 713.3 L2453.6 718.9 L2472.3 713.3 L2491.0 721.1 L2509.7 725.6 L2528.5 716.7 L2547.2 722.2 L2565.9 714.0 L2584.6 720.0 L2603.4 714.4 L2622.1 713.3 L2640.8 711.1 L2659.5 710.0 L2678.3 707.8 L2697.0 708.2 L2715.7 710.0 L2734.4 709.6 L2753.2 700.0 L2771.9 703.8 L2790.6 698.9 L2809.3 710.0 L2828.1 717.8 L2846.8 718.9 L2865.5 718.2 L2884.2 719.6 L2903.0 720.4 L2921.7 720.4 L2940.4 716.2 L2959.1 714.0 L2977.9 716.2 L2996.6 720.0 L3015.3 722.9 L3034.0 721.1 L3052.8 721.6 L3071.5 720.7 L3090.2 724.4 L3108.9 731.8 L3127.7 725.6 L3146.4 717.8 L3165.1 720.7 L3183.8 717.1 L3202.6 725.1 L3221.3 712.2 L3240.0 706.7" stroke="#808080" stroke-opacity="0.3" stroke-width="4.17"/>
<path d="M450.0 702.2 L468.7 698.9 L487.4 702.2 L506.2 694.4 L524.9 693.8 L543.6 697.8 L562.3 698.9 L581.1 696.7 L599.8 700.0 L618.5 697.8 L637.2 691.1 L656.0 698.9 L674.7 702.7 L693.4 699.3 L712.1 697.8 L730.9 701.1 L749.6 698.9 L768.3 689.3 L787.0 695.6 L805.8 692.7 L824.5 694.4 L843.2 696.7 L861.9 702.2 L880.7 704.9 L899.4 702.1 L918.1 691.3 L936.8 695.2 L955.6 697.4 L974.3 701.7 L993.0 707.2 L1011.7 704.4 L1030.5 707.8 L1049.2 711.1 L1067.9 707.8 L1086.6 710.0 L1105.4 712.2 L1124.1 713.3 L1142.8 722.2 L1161.5 718.9 L1180.3 712.7 L1199.0 708.9 L1217.7 716.7 L1236.4 716.2 L1255.2 720.0 L1273.9 725.6 L1292.6 718.9 L1311.3 715.6 L1330.1 713.3 L1348.8 707.8 L1367.5 706.7 L1386.2 708.9 L1405.0 712.2 L1423.7 713.3 L1442.4 716.7 L1461.1 724.4 L1479.9 725.6 L1498.6 731.1 L1517.3 733.3 L1536.0 731.1 L1554.8 734.4 L1573.5 728.9 L1592.2 734.4 L1610.9 731.1 L1629.7 731.1 L1648.4 728.9 L1667.1 726.7 L1685.8 727.8 L1704.6 731.1 L1723.3 733.3 L1742.0 731.1 L1760.7 730.0 L1779.5 734.0 L1798.2 725.6 L1816.9 725.1 L1835.6 725.6 L1854.4 722.2 L1873.1 722.2 L1891.8 718.9 L1910.5 725.6 L1929.3 731.1 L1948.0 733.3 L1966.7 718.9 L1985.4 725.6 L2004.2 730.0 L2022.9 731.1 L2041.6 730.0 L2060.3 732.2 L2079.1 738.9 L2097.8 734.4 L2116.5 732.2 L2135.2 730.0 L2154.0 732.2 L2172.7 730.0 L2191.4 731.1 L2210.1 733.3 L2228.9 735.6 L2247.6 733.3 L2266.3 732.2 L2285.0 728.9 L2303.8 727.1 L2322.5 733.3 L2341.2 731.1 L2359.9 737.8 L2378.7 738.9 L2397.4 739.3 L2416.1 740.0 L2434.8 740.0 L2453.6 738.4 L2472.3 740.0 L2491.0 743.3 L2509.7 744.4 L2528.5 744.4 L2547.2 745.6 L2565.9 752.2 L2584.6 761.1 L2603.4 760.0 L2622.1 758.9 L2640.8 756.7 L2659.5 757.8 L2678.3 758.9 L2697.0 763.3 L2715.7 763.3 L2734.4 758.9 L2753.2 761.1 L2771.9 765.6 L2790.6 762.2 L2809.3 758.9 L2828.1 757.8 L2846.8 756.7 L2865.5 755.6 L2884.2 757.8 L2903.0 761.1 L2921.7 761.1 L2940.4 756.7 L2959.1 753.3 L2977.9 754.4 L2996.6 752.2 L3015.3 752.2 L3034.0 757.8 L3052.8 763.3 L3071.5 756.7 L3090.2 755.6 L3108.9 757.8 L3127.7 750.0 L3146.4 743.3 L3165.1 738.9 L3183.8 732.2 L3202.6 730.0 L3221.3 736.7 L3240.0 745.6" stroke="#808080" stroke-opacity="0.3" stroke-width="4.17"/>
<path d="M450.0 714.4 L468.7 707.8 L487.4 706.7 L506.2 702.2 L524.9 700.0 L543.6 703.3 L562.3 702.2 L581.1 698.9 L599.8 701.1 L618.5 700.0 L637.2 696.7 L656.0 692.2 L674.7 691.1 L693.4 690.0 L712.1 691.1 L730.9 690.0 L749.6 687.8 L768.3 686.7 L787.0 687.8 L805.8 685.6 L824.5 683.3 L843.2 690.0 L861.9 688.9 L880.7 688.2 L899.4 689.6 L918.1 696.9 L936.8 700.9 L955.6 701.6 L974.3 704.5 L993.0 711.9 L1011.7 708.4 L1030.5 710.0 L1049.2 717.8 L1067.9 722.2 L1086.6 718.4 L1105.4 719.3 L1124.1 720.0 L1142.8 723.3 L1161.5 721.1 L1180.3 725.6 L1199.0 727.8 L1217.7 724.4 L1236.4 727.8 L1255.2 728.2 L1273.9 731.8 L1292.6 723.3 L1311.3 716.7 L1330.1 715.6 L1348.8 713.3 L1367.5 714.4 L1386.2 713.3 L1405.0 712.2 L1423.7 716.7 L1442.4 720.0 L1461.1 715.6 L1479.9 710.0 L1498.6 707.8 L1517.3 708.9 L1536.0 714.4 L1554.8 711.1 L1573.5 705.6 L1592.2 710.0 L1610.9 707.8 L1629.7 707.8 L1648.4 705.6 L1667.1 708.9 L1685.8 707.8 L1704.6 706.7 L1723.3 712.2 L1742.0 708.9 L1760.7 704.4 L1779.5 707.8 L1798.2 702.2 L1816.9 707.8 L1835.6 711.1 L1854.4 715.6 L1873.1 715.6 L1891.8 716.7 L1910.5 723.3 L1929.3 716.7 L1948.0 712.2 L1966.7 705.6 L1985.4 712.2 L2004.2 716.7 L2022.9 715.6 L2041.6 716.7 L2060.3 715.6 L2079.1 714.4 L2097.8 714.4 L2116.5 714.4 L2135.2 712.2 L2154.0 711.1 L2172.7 717.8 L2191.4 724.4 L2210.1 726.7 L2228.9 723.3 L2247.6 721.1 L2266.3 718.9 L2285.0 715.6 L2303.8 720.0 L2322.5 717.8 L2341.2 717.8 L2359.9 715.6 L2378.7 711.1 L2397.4 718.9 L2416.1 716.7 L2434.8 721.1 L2453.6 720.0 L2472.3 718.9 L2491.0 724.4 L2509.7 727.8 L2528.5 737.8 L2547.2 733.3 L2565.9 732.2 L2584.6 738.9 L2603.4 723.3 L2622.1 720.0 L2640.8 719.3 L2659.5 723.3 L2678.3 734.4 L2697.0 739.3 L2715.7 738.4 L2734.4 737.8 L2753.2 731.8 L2771.9 728.9 L2790.6 724.9 L2809.3 730.0 L2828.1 741.6 L2846.8 742.7 L2865.5 739.3 L2884.2 742.7 L2903.0 747.1 L2921.7 745.1 L2940.4 746.0 L2959.1 738.4 L2977.9 741.8 L2996.6 742.9 L3015.3 743.3 L3034.0 745.6 L3052.8 740.7 L3071.5 738.4 L3090.2 731.1 L3108.9 737.8 L3127.7 732.2 L3146.4 737.8 L3165.1 750.0 L3183.8 743.3 L3202.6 736.7 L3221.3 737.8 L3240.0 730.0" stroke="#808080" stroke-opacity="0.3" stroke-width="4.17"/>
<path d="M450.0 743.3 L468.7 735.6 L487.4 729.3 L506.2 730.0 L524.9 723.3 L543.6 715.6 L562.3 710.4 L581.1 704.2 L599.8 705.1 L618.5 714.4 L637.2 712.0 L656.0 703.8 L674.7 702.2 L693.4 700.0 L712.1 698.9 L730.9 700.0 L749.6 703.3 L768.3 705.6 L787.0 707.8 L805.8 708.9 L824.5 707.8 L843.2 710.0 L861.9 714.4 L880.7 715.6 L899.4 715.3 L918.1 717.2 L936.8 722.4 L955.6 718.8 L974.3 717.4 L993.0 728.2 L1011.7 730.0 L1030.5 727.3 L1049.2 726.7 L1067.9 736.7 L1086.6 736.2 L1105.4 737.8 L1124.1 738.9 L1142.8 740.0 L1161.5 742.9 L1180.3 744.4 L1199.0 751.1 L1217.7 741.1 L1236.4 740.0 L1255.2 738.9 L1273.9 737.8 L1292.6 738.9 L1311.3 737.8 L1330.1 735.6 L1348.8 731.1 L1367.5 732.2 L1386.2 731.1 L1405.0 734.4 L1423.7 733.3 L1442.4 731.1 L1461.1 732.3 L1479.9 733.5 L1498.6 733.5 L1517.3 730.3 L1536.0 723.7 L1554.8 715.9 L1573.5 711.1 L1592.2 717.8 L1610.9 714.4 L1629.7 707.8 L1648.4 706.7 L1667.1 707.8 L1685.8 711.1 L1704.6 714.4 L1723.3 721.1 L1742.0 718.9 L1760.7 716.2 L1779.5 716.2 L1798.2 720.0 L1816.9 723.3 L1835.6 723.3 L1854.4 720.7 L1873.1 720.0 L1891.8 718.9 L1910.5 725.6 L1929.3 720.7 L1948.0 718.9 L1966.7 720.0 L1985.4 725.6 L2004.2 718.9 L2022.9 721.1 L2041.6 723.3 L2060.3 727.8 L2079.1 732.2 L2097.8 730.0 L2116.5 730.0 L2135.2 725.6 L2154.0 728.9 L2172.7 728.9 L2191.4 716.7 L2210.1 722.2 L2228.9 721.1 L2247.6 718.9 L2266.3 718.9 L2285.0 714.4 L2303.8 718.9 L2322.5 718.9 L2341.2 716.7 L2359.9 716.7 L2378.7 712.2 L2397.4 718.9 L2416.1 721.1 L2434.8 724.4 L2453.6 723.3 L2472.3 721.1 L2491.0 731.1 L2509.7 732.2 L2528.5 743.3 L2547.2 733.3 L2565.9 741.1 L2584.6 740.7 L2603.4 739.2 L2622.1 743.3 L2640.8 747.4 L2659.5 748.8 L2678.3 748.8 L2697.0 750.4 L2715.7 747.8 L2734.4 751.1 L2753.2 752.2 L2771.9 747.8 L2790.6 749.6 L2809.3 746.0 L2828.1 751.1 L2846.8 750.0 L2865.5 748.9 L2884.2 754.4 L2903.0 753.3 L2921.7 755.6 L2940.4 752.2 L2959.1 747.8 L2977.9 754.4 L2996.6 750.0 L3015.3 748.9 L3034.0 745.6 L3052.8 741.1 L3071.5 738.9 L3090.2 731.1 L3108.9 727.8 L3127.7 726.7 L3146.4 730.0 L3165.1 727.8 L3183.8 734.4 L3202.6 730.0 L3221.3 732.2 L3240.0 741.1" stroke="#808080" stroke-opacity="0.3" stroke-width="4.17"/>
<path d="M450.0 697.1 L468.7 711.6 L487.4 719.3 L506.2 700.4 L524.9 701.3 L543.6 707.8 L562.3 715.6 L581.1 717.8 L599.8 717.6 L618.5 717.1 L637.2 717.8 L656.0 726.7 L674.7 720.0 L693.4 717.1 L712.1 716.7 L730.9 714.4 L749.6 718.9 L768.3 722.2 L787.0 724.4 L805.8 727.8 L824.5 723.3 L843.2 716.7 L861.9 708.9 L880.7 713.3 L899.4 720.3 L918.1 730.9 L936.8 731.2 L955.6 734.0 L974.3 738.3 L993.0 734.9 L1011.7 737.1 L1030.5 741.1 L1049.2 743.3 L1067.9 744.0 L1086.6 741.1 L1105.4 736.7 L1124.1 732.7 L1142.8 730.0 L1161.5 730.4 L1180.3 726.7 L1199.0 725.6 L1217.7 726.7 L1236.4 734.4 L1255.2 741.1 L1273.9 743.3 L1292.6 744.4 L1311.3 745.6 L1330.1 741.1 L1348.8 734.4 L1367.5 731.1 L1386.2 732.2 L1405.0 736.7 L1423.7 741.1 L1442.4 743.3 L1461.1 745.6 L1479.9 748.9 L1498.6 752.2 L1517.3 753.3 L1536.0 752.2 L1554.8 748.9 L1573.5 743.3 L1592.2 744.4 L1610.9 743.3 L1629.7 745.6 L1648.4 747.8 L1667.1 743.3 L1685.8 742.2 L1704.6 743.3 L1723.3 741.1 L1742.0 747.8 L1760.7 752.2 L1779.5 756.7 L1798.2 758.9 L1816.9 766.7 L1835.6 770.0 L1854.4 774.0 L1873.1 774.4 L1891.8 783.3 L1910.5 784.4 L1929.3 783.8 L1948.0 783.3 L1966.7 780.7 L1985.4 781.1 L2004.2 782.2 L2022.9 772.4 L2041.6 772.6 L2060.3 766.1 L2079.1 759.6 L2097.8 754.2 L2116.5 752.1 L2135.2 750.0 L2154.0 748.9 L2172.7 751.1 L2191.4 751.1 L2210.1 752.2 L2228.9 757.8 L2247.6 761.1 L2266.3 755.6 L2285.0 757.8 L2303.8 754.4 L2322.5 768.9 L2341.2 767.8 L2359.9 766.7 L2378.7 755.6 L2397.4 756.7 L2416.1 758.9 L2434.8 762.2 L2453.6 765.6 L2472.3 761.1 L2491.0 760.0 L2509.7 772.2 L2528.5 778.9 L2547.2 785.6 L2565.9 790.0 L2584.6 785.6 L2603.4 786.7 L2622.1 788.9 L2640.8 788.9 L2659.5 794.4 L2678.3 785.6 L2697.0 781.1 L2715.7 774.4 L2734.4 770.0 L2753.2 765.6 L2771.9 766.7 L2790.6 764.4 L2809.3 763.3 L2828.1 768.9 L2846.8 770.0 L2865.5 773.3 L2884.2 775.6 L2903.0 776.7 L2921.7 777.8 L2940.4 777.1 L2959.1 776.7 L2977.9 777.8 L2996.6 780.0 L3015.3 775.6 L3034.0 780.0 L3052.8 783.3 L3071.5 787.8 L3090.2 794.0 L3108.9 800.7 L3127.7 801.1 L3146.4 799.3 L3165.1 800.0 L3183.8 796.2 L3202.6 798.4 L3221.3 807.8 L3240.0 802.2" stroke="#808080" stroke-opacity="0.3" stroke-width="4.17"/>
<path d="M450.0 756.7 L468.7 754.9 L487.4 747.8 L506.2 745.6 L524.9 747.8 L543.6 744.4 L562.3 740.0 L581.1 740.4 L599.8 738.9 L618.5 742.2 L637.2 746.7 L656.0 750.4 L674.7 753.8 L693.4 753.3 L712.1 758.9 L730.9 762.2 L749.6 763.8 L768.3 764.9 L787.0 763.3 L805.8 757.1 L824.5 756.0 L843.2 754.9 L861.9 759.3 L880.7 754.9 L899.4 759.7 L918.1 767.3 L936.8 769.8 L955.6 763.9 L974.3 766.0 L993.0 766.8 L1011.7 770.0 L1030.5 767.8 L1049.2 770.0 L1067.9 767.3 L1086.6 774.4 L1105.4 778.4 L1124.1 777.1 L1142.8 780.0 L1161.5 775.6 L1180.3 773.3 L1199.0 774.0 L1217.7 773.3 L1236.4 763.3 L1255.2 758.9 L1273.9 756.7 L1292.6 754.4 L1311.3 753.3 L1330.1 754.4 L1348.8 752.2 L1367.5 750.0 L1386.2 750.0 L1405.0 752.2 L1423.7 752.2 L1442.4 750.0 L1461.1 748.9 L1479.9 750.0 L1498.6 748.9 L1517.3 752.2 L1536.0 753.3 L1554.8 750.0 L1573.5 750.0 L1592.2 751.1 L1610.9 747.8 L1629.7 752.2 L1648.4 755.6 L1667.1 747.8 L1685.8 745.6 L1704.6 748.9 L1723.3 747.3 L1742.0 756.7 L1760.7 765.6 L1779.5 762.2 L1798.2 768.9 L1816.9 771.1 L1835.6 770.0 L1854.4 765.6 L1873.1 763.3 L1891.8 761.1 L1910.5 763.3 L1929.3 758.9 L1948.0 763.3 L1966.7 761.1 L1985.4 750.0 L2004.2 747.8 L2022.9 741.1 L2041.6 750.0 L2060.3 743.3 L2079.1 743.3 L2097.8 752.2 L2116.5 773.3 L2135.2 774.9 L2154.0 771.1 L2172.7 764.4 L2191.4 766.7 L2210.1 762.2 L2228.9 757.8 L2247.6 757.8 L2266.3 752.2 L2285.0 754.4 L2303.8 752.2 L2322.5 750.0 L2341.2 748.9 L2359.9 752.2 L2378.7 753.3 L2397.4 752.2 L2416.1 754.4 L2434.8 757.8 L2453.6 758.9 L2472.3 756.7 L2491.0 757.8 L2509.7 770.0 L2528.5 773.3 L2547.2 770.0 L2565.9 772.2 L2584.6 776.7 L2603.4 778.9 L2622.1 781.1 L2640.8 785.6 L2659.5 798.9 L2678.3 812.2 L2697.0 814.9 L2715.7 816.2 L2734.4 812.7 L2753.2 806.7 L2771.9 807.8 L2790.6 809.6 L2809.3 806.7 L2828.1 816.7 L2846.8 824.4 L2865.5 832.9 L2884.2 825.6 L2903.0 830.7 L2921.7 827.8 L2940.4 824.9 L2959.1 832.2 L2977.9 836.7 L2996.6 834.4 L3015.3 828.9 L3034.0 833.3 L3052.8 828.9 L3071.5 823.3 L3090.2 824.0 L3108.9 832.2 L3127.7 823.8 L3146.4 812.7 L3165.1 805.6 L3183.8 797.8 L3202.6 798.9 L3221.3 815.6 L3240.0 813.3" stroke="#808080" stroke-opacity="0.3" stroke-width="4.17"/>
<path d="M450.0 729.3 L468.7 737.8 L487.4 744.4 L506.2 755.6 L524.9 750.0 L543.6 742.2 L562.3 738.9 L581.1 737.8 L599.8 738.9 L618.5 747.8 L637.2 744.4 L656.0 742.2 L674.7 746.7 L693.4 745.6 L712.1 747.8 L730.9 750.0 L749.6 746.7 L768.3 748.2 L787.0 752.2 L805.8 757.1 L824.5 765.6 L843.2 766.7 L861.9 771.6 L880.7 774.9 L899.4 773.8 L918.1 773.3 L936.8 768.9 L955.6 770.4 L974.3 774.4 L993.0 778.9 L1011.7 776.2 L1030.5 768.9 L1049.2 776.2 L1067.9 780.0 L1086.6 788.2 L1105.4 791.1 L1124.1 793.3 L1142.8 791.8 L1161.5 781.1 L1180.3 773.3 L1199.0 765.6 L1217.7 766.7 L1236.4 756.7 L1255.2 754.4 L1273.9 752.2 L1292.6 751.1 L1311.3 752.2 L1330.1 752.2 L1348.8 761.1 L1367.5 766.7 L1386.2 760.0 L1405.0 754.4 L1423.7 747.8 L1442.4 743.3 L1461.1 742.4 L1479.9 743.7 L1498.6 744.9 L1517.3 742.9 L1536.0 740.8 L1554.8 737.7 L1573.5 735.6 L1592.2 737.8 L1610.9 734.4 L1629.7 733.3 L1648.4 731.1 L1667.1 727.8 L1685.8 728.9 L1704.6 732.2 L1723.3 734.4 L1742.0 735.6 L1760.7 734.4 L1779.5 736.7 L1798.2 734.4 L1816.9 730.0 L1835.6 731.1 L1854.4 732.2 L1873.1 733.3 L1891.8 732.2 L1910.5 735.6 L1929.3 733.3 L1948.0 734.4 L1966.7 734.4 L1985.4 735.6 L2004.2 736.7 L2022.9 737.8 L2041.6 738.9 L2060.3 740.0 L2079.1 741.1 L2097.8 737.8 L2116.5 734.4 L2135.2 735.6 L2154.0 736.7 L2172.7 737.8 L2191.4 740.0 L2210.1 742.2 L2228.9 741.1 L2247.6 742.2 L2266.3 735.6 L2285.0 743.3 L2303.8 740.0 L2322.5 736.7 L2341.2 735.6 L2359.9 738.9 L2378.7 741.1 L2397.4 743.3 L2416.1 745.6 L2434.8 747.8 L2453.6 746.7 L2472.3 744.4 L2491.0 745.6 L2509.7 752.2 L2528.5 756.7 L2547.2 752.2 L2565.9 747.8 L2584.6 743.3 L2603.4 741.1 L2622.1 743.3 L2640.8 745.6 L2659.5 747.8 L2678.3 748.9 L2697.0 754.4 L2715.7 756.7 L2734.4 755.6 L2753.2 756.7 L2771.9 761.1 L2790.6 763.3 L2809.3 761.1 L2828.1 760.0 L2846.8 758.9 L2865.5 761.1 L2884.2 763.3 L2903.0 765.6 L2921.7 767.8 L2940.4 768.9 L2959.1 768.2 L2977.9 767.8 L2996.6 762.2 L3015.3 763.3 L3034.0 765.6 L3052.8 768.9 L3071.5 758.9 L3090.2 756.7 L3108.9 758.9 L3127.7 754.4 L3146.4 748.9 L3165.1 745.6 L3183.8 738.9 L3202.6 738.9 L3221.3 744.4 L3240.0 745.6" stroke="#808080" stroke-opacity="0.3" stroke-width="4.17"/>
<path d="M450.0 971.6 L468.7 974.4 L487.4 963.3 L506.2 952.9 L524.9 944.4 L543.6 932.9 L562.3 930.0 L581.1 924.4 L599.8 927.8 L618.5 941.1 L637.2 938.2 L656.0 945.1 L674.7 952.2 L693.4 943.3 L712.1 950.0 L730.9 954.4 L749.6 957.1 L768.3 956.7 L787.0 955.6 L805.8 953.8 L824.5 950.0 L843.2 948.4 L861.9 953.8 L880.7 949.3 L899.4 960.4 L918.1 957.8 L936.8 946.2 L955.6 946.0 L974.3 934.4 L993.0 941.1 L1011.7 938.9 L1030.5 946.2 L1049.2 945.6 L1067.9 953.3 L1086.6 946.2 L1105.4 948.9 L1124.1 960.4 L1142.8 958.2 L1161.5 959.3 L1180.3 961.6 L1199.0 963.8 L1217.7 955.1 L1236.4 941.8 L1255.2 944.4 L1273.9 950.4 L1292.6 952.9 L1311.3 962.9 L1330.1 960.0 L1348.8 962.2 L1367.5 963.3 L1386.2 961.6 L1405.0 944.0 L1423.7 946.2 L1442.4 947.1 L1461.1 961.8 L1479.9 971.6 L1498.6 974.4 L1517.3 971.8 L1536.0 968.4 L1554.8 955.1 L1573.5 951.6 L1592.2 949.6 L1610.9 952.7 L1629.7 934.9 L1648.4 935.1 L1667.1 933.3 L1685.8 936.7 L1704.6 945.6 L1723.3 954.4 L1742.0 956.0 L1760.7 944.4 L1779.5 948.4 L1798.2 952.7 L1816.9 955.6 L1835.6 954.0 L1854.4 944.4 L1873.1 938.9 L1891.8 941.1 L1910.5 944.9 L1929.3 938.9 L1948.0 947.3 L1966.7 951.1 L1985.4 945.1 L2004.2 938.9 L2022.9 930.7 L2041.6 937.8 L2060.3 956.2 L2079.1 951.1 L2097.8 961.8 L2116.5 972.9 L2135.2 973.3 L2154.0 980.0 L2172.7 971.6 L2191.4 961.8 L2210.1 960.4 L2228.9 964.9 L2247.6 967.8 L2266.3 962.2 L2285.0 967.3 L2303.8 967.3 L2322.5 965.6 L2341.2 962.2 L2359.9 968.2 L2378.7 974.9 L2397.4 974.4 L2416.1 967.1 L2434.8 965.6 L2453.6 970.7 L2472.3 976.0 L2491.0 972.2 L2509.7 977.8 L2528.5 966.7 L2547.2 981.1 L2565.9 981.6 L2584.6 977.1 L2603.4 976.0 L2622.1 974.9 L2640.8 979.3 L2659.5 984.4 L2678.3 987.8 L2697.0 990.7 L2715.7 990.4 L2734.4 996.7 L2753.2 1002.9 L2771.9 998.2 L2790.6 1002.2 L2809.3 996.7 L2828.1 990.4 L2846.8 988.9 L2865.5 987.8 L2884.2 982.2 L2903.0 984.9 L2921.7 986.7 L2940.4 989.3 L2959.1 987.3 L2977.9 991.1 L2996.6 987.1 L3015.3 984.4 L3034.0 992.7 L3052.8 994.4 L3071.5 983.8 L3090.2 982.2 L3108.9 979.3 L3127.7 975.6 L3146.4 970.7 L3165.1 975.1 L3183.8 977.8 L3202.6 970.0 L3221.3 974.0 L3240.0 961.6" stroke="#808080" stroke-width="4.17"/>
<path d="M450.0 692.7 L468.7 695.6 L487.4 688.2 L506.2 694.9 L524.9 691.8 L543.6 692.2 L562.3 690.4 L581.1 690.4 L599.8 695.1 L618.5 692.7 L637.2 687.3 L656.0 682.4 L674.7 685.1 L693.4 681.6 L712.1 680.7 L730.9 683.8 L749.6 680.7 L768.3 677.8 L787.0 686.0 L805.8 681.6 L824.5 680.2 L843.2 681.1 L861.9 683.3 L880.7 684.0 L899.4 688.2 L918.1 684.7 L936.8 686.7 L955.6 682.9 L974.3 684.0 L993.0 681.1 L1011.7 680.7 L1030.5 679.3 L1049.2 680.7 L1067.9 680.7 L1086.6 682.2 L1105.4 684.4 L1124.1 687.3 L1142.8 688.2 L1161.5 689.3 L1180.3 688.9 L1199.0 697.1 L1217.7 699.3 L1236.4 694.0 L1255.2 698.9 L1273.9 702.2 L1292.6 696.7 L1311.3 702.7 L1330.1 702.2 L1348.8 695.6 L1367.5 695.1 L1386.2 695.6 L1405.0 705.6 L1423.7 697.1 L1442.4 699.6 L1461.1 695.6 L1479.9 698.2 L1498.6 699.6 L1517.3 696.2 L1536.0 700.0 L1554.8 700.0 L1573.5 698.2 L1592.2 698.4 L1610.9 697.3 L1629.7 701.8 L1648.4 694.4 L1667.1 693.8 L1685.8 693.8 L1704.6 688.2 L1723.3 692.7 L1742.0 689.6 L1760.7 687.1 L1779.5 691.1 L1798.2 701.1 L1816.9 700.0 L1835.6 701.8 L1854.4 703.8 L1873.1 702.7 L1891.8 704.4 L1910.5 705.1 L1929.3 706.0 L1948.0 704.4 L1966.7 695.6 L1985.4 693.8 L2004.2 690.0 L2022.9 691.1 L2041.6 687.3 L2060.3 686.0 L2079.1 694.4 L2097.8 694.0 L2116.5 696.7 L2135.2 688.9 L2154.0 694.0 L2172.7 694.9 L2191.4 692.2 L2210.1 690.0 L2228.9 701.6 L2247.6 701.1 L2266.3 701.1 L2285.0 700.0 L2303.8 704.4 L2322.5 700.7 L2341.2 704.4 L2359.9 700.7 L2378.7 700.7 L2397.4 702.2 L2416.1 698.2 L2434.8 694.0 L2453.6 691.1 L2472.3 693.8 L2491.0 693.8 L2509.7 700.0 L2528.5 700.0 L2547.2 689.6 L2565.9 693.3 L2584.6 693.3 L2603.4 688.9 L2622.1 685.6 L2640.8 686.2 L2659.5 688.2 L2678.3 682.2 L2697.0 685.6 L2715.7 687.8 L2734.4 690.4 L2753.2 697.8 L2771.9 695.1 L2790.6 694.9 L2809.3 702.9 L2828.1 699.6 L2846.8 701.1 L2865.5 705.6 L2884.2 704.4 L2903.0 696.7 L2921.7 687.3 L2940.4 685.6 L2959.1 687.8 L2977.9 684.4 L2996.6 682.9 L3015.3 681.8 L3034.0 682.9 L3052.8 682.7 L3071.5 680.7 L3090.2 684.0 L3108.9 686.2 L3127.7 691.8 L3146.4 682.9 L3165.1 690.0 L3183.8 692.9 L3202.6 695.6 L3221.3 700.0 L3240.0 702.9" stroke="#808080" stroke-width="4.17"/>
<path d="M450.0 747.3 L468.7 746.0 L487.4 745.1 L506.2 737.8 L524.9 737.1 L543.6 738.9 L562.3 733.3 L581.1 732.9 L599.8 732.7 L618.5 733.3 L637.2 732.9 L656.0 735.6 L674.7 740.7 L693.4 737.1 L712.1 736.2 L730.9 734.9 L749.6 735.1 L768.3 735.6 L787.0 741.1 L805.8 742.4 L824.5 740.7 L843.2 739.3 L861.9 739.6 L880.7 739.6 L899.4 739.6 L918.1 745.6 L936.8 746.0 L955.6 743.3 L974.3 744.9 L993.0 742.9 L1011.7 752.7 L1030.5 752.7 L1049.2 756.2 L1067.9 755.6 L1086.6 757.3 L1105.4 758.2 L1124.1 757.8 L1142.8 759.3 L1161.5 758.9 L1180.3 758.4 L1199.0 758.2 L1217.7 753.3 L1236.4 745.6 L1255.2 749.6 L1273.9 750.0 L1292.6 749.6 L1311.3 749.3 L1330.1 746.0 L1348.8 739.3 L1367.5 738.4 L1386.2 742.2 L1405.0 740.0 L1423.7 737.8 L1442.4 738.9 L1461.1 740.7 L1479.9 742.7 L1498.6 745.6 L1517.3 743.3 L1536.0 742.2 L1554.8 741.1 L1573.5 740.0 L1592.2 742.9 L1610.9 741.1 L1629.7 741.6 L1648.4 742.2 L1667.1 739.3 L1685.8 738.4 L1704.6 741.1 L1723.3 741.8 L1742.0 744.9 L1760.7 745.6 L1779.5 747.8 L1798.2 752.7 L1816.9 754.9 L1835.6 755.1 L1854.4 755.6 L1873.1 754.9 L1891.8 762.2 L1910.5 762.2 L1929.3 758.4 L1948.0 756.2 L1966.7 752.9 L1985.4 751.6 L2004.2 755.6 L2022.9 750.0 L2041.6 751.6 L2060.3 745.6 L2079.1 749.6 L2097.8 748.9 L2116.5 745.6 L2135.2 743.3 L2154.0 743.8 L2172.7 744.0 L2191.4 744.4 L2210.1 746.7 L2228.9 748.4 L2247.6 750.4 L2266.3 745.1 L2285.0 749.6 L2303.8 747.8 L2322.5 742.2 L2341.2 742.2 L2359.9 745.1 L2378.7 745.1 L2397.4 745.1 L2416.1 744.4 L2434.8 751.1 L2453.6 752.2 L2472.3 748.9 L2491.0 752.2 L2509.7 766.0 L2528.5 768.9 L2547.2 763.3 L2565.9 763.8 L2584.6 768.2 L2603.4 768.2 L2622.1 766.7 L2640.8 761.1 L2659.5 764.4 L2678.3 770.4 L2697.0 774.4 L2715.7 766.7 L2734.4 762.9 L2753.2 758.2 L2771.9 760.0 L2790.6 757.8 L2809.3 756.7 L2828.1 763.3 L2846.8 764.0 L2865.5 767.8 L2884.2 769.6 L2903.0 771.1 L2921.7 773.3 L2940.4 772.2 L2959.1 770.4 L2977.9 773.3 L2996.6 771.1 L3015.3 770.0 L3034.0 773.3 L3052.8 776.2 L3071.5 772.2 L3090.2 776.7 L3108.9 780.7 L3127.7 778.4 L3146.4 773.3 L3165.1 775.6 L3183.8 773.8 L3202.6 774.0 L3221.3 774.4 L3240.0 772.7" stroke="#000000" stroke-width="8.33" stroke-linecap="square"/>
<path d="M730.9 726.7 L749.6 719.3 L768.3 726.0 L787.0 723.8 L805.8 718.4 L824.5 717.3 L843.2 730.0 L861.9 725.6 L880.7 718.9 L899.4 715.3 L918.1 714.4 L936.8 709.6 L955.6 701.8 L974.3 702.2 L993.0 702.9 L1011.7 702.2 L1030.5 701.1 L1049.2 696.7 L1067.9 690.0 L1086.6 688.2 L1105.4 687.8 L1124.1 680.0 L1142.8 682.2 L1161.5 676.7 L1180.3 681.1 L1199.0 675.6 L1217.7 672.9 L1236.4 673.3 L1255.2 673.8 L1273.9 667.3 L1292.6 665.6 L1311.3 667.3 L1330.1 660.0 L1348.8 658.9 L1367.5 660.7 L1386.2 659.3 L1405.0 644.4 L1423.7 644.7 L1442.4 649.6 L1461.1 650.0 L1479.9 646.7 L1498.6 651.1" stroke="#008000" stroke-width="12.5" stroke-linecap="square"/>
</g>
<g stroke="#000" stroke-width="2.08" stroke-dasharray="4.17 12.5" fill="none">
<line x1="618.52" y1="1837.50" x2="618.52" y2="210.00"/>
<line x1="993.02" y1="1837.50" x2="993.02" y2="210.00"/>
<line x1="1367.52" y1="1837.50" x2="1367.52" y2="210.00"/>
<line x1="1742.01" y1="1837.50" x2="1742.01" y2="210.00"/>
<line x1="2116.51" y1="1837.50" x2="2116.51" y2="210.00"/>
<line x1="2491.01" y1="1837.50" x2="2491.01" y2="210.00"/>
<line x1="2865.50" y1="1837.50" x2="2865.50" y2="210.00"/>
<line x1="450.00" y1="1566.25" x2="3240.00" y2="1566.25"/>
<line x1="450.00" y1="1295.00" x2="3240.00" y2="1295.00"/>
<line x1="450.00" y1="1023.75" x2="3240.00" y2="1023.75"/>
<line x1="450.00" y1="752.50" x2="3240.00" y2="752.50"/>
<line x1="450.00" y1="481.25" x2="3240.00" y2="481.25"/>
</g>
<g stroke="#000" stroke-width="2.08" fill="none">
<line x1="618.52" y1="1837.50" x2="618.52" y2="1820.83"/>
<line x1="618.52" y1="210.00" x2="618.52" y2="226.67"/>
<line x1="993.02" y1="1837.50" x2="993.02" y2="1820.83"/>
<line x1="993.02" y1="210.00" x2="993.02" y2="226.67"/>
<line x1="1367.52" y1="1837.50" x2="1367.52" y2="1820.83"/>
<line x1="1367.52" y1="210.00" x2="1367.52" y2="226.67"/>
<line x1="1742.01" y1="1837.50" x2="1742.01" y2="1820.83"/>
<line x1="1742.01" y1="210.00" x2="1742.01" y2="226.67"/>
<line x1="2116.51" y1="1837.50" x2="2116.51" y2="1820.83"/>
<line x1="2116.51" y1="210.00" x2="2116.51" y2="226.67"/>
<line x1="2491.01" y1="1837.50" x2="2491.01" y2="1820.83"/>
<line x1="2491.01" y1="210.00" x2="2491.01" y2="226.67"/>
<line x1="2865.50" y1="1837.50" x2="2865.50" y2="1820.83"/>
<line x1="2865.50" y1="210.00" x2="2865.50" y2="226.67"/>
<line x1="3240.00" y1="1837.50" x2="3240.00" y2="1820.83"/>
<line x1="3240.00" y1="210.00" x2="3240.00" y2="226.67"/>
<line x1="450.00" y1="1837.50" x2="466.67" y2="1837.50"/>
<line x1="3240.00" y1="1837.50" x2="3223.33" y2="1837.50"/>
<line x1="450.00" y1="1566.25" x2="466.67" y2="1566.25"/>
<line x1="3240.00" y1="1566.25" x2="3223.33" y2="1566.25"/>
<line x1="450.00" y1="1295.00" x2="466.67" y2="1295.00"/>
<line x1="3240.00" y1="1295.00" x2="3223.33" y2="1295.00"/>
<line x1="450.00" y1="1023.75" x2="466.67" y2="1023.75"/>
<line x1="3240.00" y1="1023.75" x2="3223.33" y2="1023.75"/>
<line x1="450.00" y1="752.50" x2="466.67" y2="752.50"/>
<line x1="3240.00" y1="752.50" x2="3223.33" y2="752.50"/>
<line x1="450.00" y1="481.25" x2="466.67" y2="481.25"/>
<line x1="3240.00" y1="481.25" x2="3223.33" y2="481.25"/>
<line x1="450.00" y1="210.00" x2="466.67" y2="210.00"/>
<line x1="3240.00" y1="210.00" x2="3223.33" y2="210.00"/>
</g>
<rect x="450" y="210" width="2790" height="1628" fill="none" stroke="#000" stroke-width="4.1" stroke-linejoin="miter"/>
<text class="t14" x="618.52" y="1894.80" text-anchor="middle">1960</text>
<text class="t14" x="993.02" y="1894.80" text-anchor="middle">1980</text>
<text class="t14" x="1367.52" y="1894.80" text-anchor="middle">2000</text>
<text class="t14" x="1742.01" y="1894.80" text-anchor="middle">2020</text>
<text class="t14" x="2116.51" y="1894.80" text-anchor="middle">2040</text>
<text class="t14" x="2491.01" y="1894.80" text-anchor="middle">2060</text>
<text class="t14" x="2865.50" y="1894.80" text-anchor="middle">2080</text>
<text class="t14" x="3240.00" y="1894.80" text-anchor="middle">2100</text>
<text class="t14" x="433.30" y="1852.00" text-anchor="end">0</text>
<text class="t14" x="433.30" y="1580.75" text-anchor="end">50</text>
<text class="t14" x="433.30" y="1309.50" text-anchor="end">100</text>
<text class="t14" x="433.30" y="1038.25" text-anchor="end">150</text>
<text class="t14" x="433.30" y="767.00" text-anchor="end">200</text>
<text class="t14" x="433.30" y="495.75" text-anchor="end">250</text>
<text class="t14" x="433.30" y="224.50" text-anchor="end">300</text>
<text class="t17" x="1845.00" y="188.90" text-anchor="middle">Bauska.Mai</text>
<text class="t14" x="1845.00" y="1968.00" text-anchor="middle">Gads</text>
<g transform="translate(307,1586.5) rotate(-90)"><text class="t14" x="0" y="0">Saules radiācija uz horizontālas virsmas,</text><g transform="translate(967,0) scale(1,-1)" fill="#000" stroke="none"><path d="M0 38.8 L14.3 38.8 L14.3 40.7 L0 40.7 Z"/><path d="M4.7 40 L10 40 L10 3 L9 -0.6 L7.4 -0.3 Z"/><path d="M7.6 0.4 L9.2 -0.6 L27.6 34.6 L26.2 35.4 Z"/><path d="M20.6 38.8 L35.6 38.8 L35.6 40.7 L20.6 40.7 Z"/><path d="M24.4 40 L30.8 40 L31.6 3 L30.8 -0.6 L29.2 -0.3 Z"/><path d="M29.6 0.4 L31.2 -0.6 L52.8 39.4 L51.3 40.2 Z"/><path d="M45.8 38.8 L56.4 38.8 L56.4 40.7 L45.8 40.7 Z"/></g><line x1="1022.5" y1="13.3" x2="1043.6" y2="-44.9" stroke="#000" stroke-width="2.4"/><g transform="translate(1050.2,0) scale(1,-1)" fill="none" stroke="#000" stroke-linecap="round" stroke-linejoin="round"><path stroke-width="1.7" d="M0.6 17.2 Q2.6 25.6 6.4 26 Q8.6 26 8.9 23.5"/><path stroke-width="3.5" stroke-linecap="butt" d="M8.9 24.5 L4.1 0"/><path stroke-width="1.7" d="M7.8 18.5 Q12 27.6 18.2 26.4 Q23.4 25.4 24.2 21"/><path stroke-width="3.5" stroke-linecap="butt" d="M24.3 22.5 L19.7 0"/><path stroke-width="1.7" d="M23.4 18.5 Q27.6 27.6 33.8 26.4 Q39 25.4 39.8 21"/><path stroke-width="3.5" stroke-linecap="butt" d="M39.9 22.5 L36.2 5"/><path stroke-width="2.2" d="M36.4 6 Q35.2 0.8 38.6 0.9 Q42.6 1.2 46.3 8.4"/></g><path transform="translate(1103.9,-22.8) scale(0.02042,-0.02082)" fill="#000" d="M911 0H90V147L276 316Q455 473 539 570Q623 667 659.5 770Q696 873 696 1006Q696 1136 637 1204Q578 1272 444 1272Q391 1272 335 1257.5Q279 1243 236 1219L201 1055H135V1313Q317 1356 444 1356Q664 1356 774.5 1264.5Q885 1173 885 1006Q885 894 841.5 794.5Q798 695 708 596.5Q618 498 410 321Q321 245 221 154H911Z"/></g>
<rect x="485" y="1386" width="590" height="417" fill="#fff" stroke="#000" stroke-width="4.17"/>
<line x1="534" y1="1438" x2="632.3" y2="1438" stroke="#808080" stroke-width="4.17" stroke-linecap="square"/>
<text class="t17" x="708.6" y="1462">13%</text>
<line x1="534" y1="1537.1" x2="632.3" y2="1537.1" stroke="#808080" stroke-width="4.17" stroke-linecap="square"/>
<text class="t17" x="708.6" y="1561.3">87%</text>
<line x1="534" y1="1636.1" x2="632.3" y2="1636.1" stroke="#000000" stroke-width="8.33" stroke-linecap="square"/>
<text class="t17" x="708.6" y="1660.6">Mediāna</text>
<line x1="534" y1="1735.3" x2="632.3" y2="1735.3" stroke="#008000" stroke-width="12.5" stroke-linecap="square"/>
<text class="t17" x="708.6" y="1759.4">Novērojumi</text>
</svg></body></html>
